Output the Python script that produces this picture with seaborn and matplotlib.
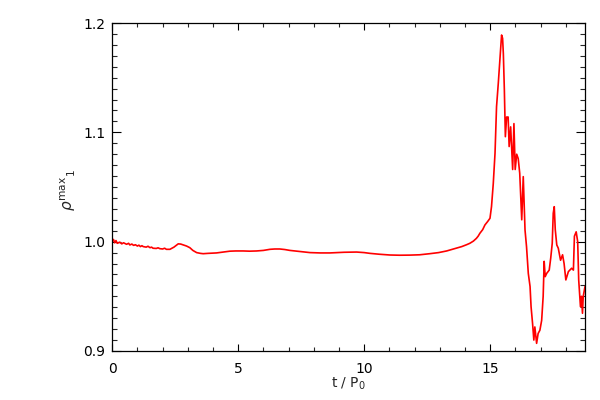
import matplotlib
matplotlib.use("Agg")
import matplotlib.pyplot as plt
import seaborn as sns
import pandas as pd
from matplotlib.ticker import MultipleLocator

# time in units of P_0
t = [0.00, 0.05, 0.10, 0.15, 0.20, 0.30, 0.38, 0.45, 0.57, 0.65, 0.70, 0.78, 0.85, 0.92, 1.00, 1.06, 1.12, 1.18,
     1.23, 1.35, 1.42, 1.50, 1.56, 1.62, 1.75, 1.82, 1.89, 2.00, 2.08, 2.15, 2.29,
     2.45, 2.62, 2.72, 2.82, 2.95, 3.08, 3.20, 3.35, 3.50, 3.61, 3.80, 4.00, 4.14, 4.40, 4.67, 4.90, 5.20, 5.45,
     5.73, 6.00, 6.26, 6.45, 6.65, 6.85, 7.05, 7.45, 7.85, 8.25, 8.64, 9.20, 9.70, 10.00, 10.23, 10.60, 11.02,
     11.40, 11.81, 12.20, 12.60, 12.95, 13.27, 13.47, 13.67, 13.87, 14.06, 14.19, 14.33, 14.45, 14.52, 14.59,
     14.70, 14.79, 14.90, 14.99, 15.05, 15.12, 15.19, 15.25, 15.32, 15.38, 15.45, 15.49, 15.52, 15.56, 15.60,
     15.65, 15.71, 15.75, 15.81, 15.89, 15.94, 15.99, 16.05, 16.11, 16.17, 16.25, 16.31, 16.38, 16.44, 16.51,
     16.58, 16.62, 16.68, 16.73, 16.77, 16.84, 16.90, 16.97, 17.04, 17.10, 17.14, 17.18, 17.24, 17.34, 17.40,
     17.46, 17.50, 17.54, 17.58, 17.64, 17.70, 17.79, 17.87, 17.93, 18.00, 18.10, 18.23, 18.30, 18.34, 18.41,
     18.47, 18.51, 18.58, 18.62, 18.66, 18.69, 18.76]

# rho^max_1
rho = [1.000, 1.002, 0.999, 1.001, 0.9985, 0.9995, 0.998, 0.9990, 0.9976, 0.9985, 0.997, 0.9978, 0.9966, 0.9972,
       0.996, 0.9968, 0.9955, 0.9963, 0.9955, 0.9950, 0.9958, 0.9945, 0.9950, 0.9940,
       0.9938, 0.9944, 0.9936, 0.9933, 0.9940, 0.9930, 0.9930, 0.9950, 0.9980, 0.9978, 0.9970, 0.9960, 0.9945,
       0.9920, 0.9900, 0.9893, 0.9890, 0.9893, 0.9895, 0.9897, 0.9905, 0.9913, 0.9915, 0.9915, 0.9913, 0.9915,
       0.9920, 0.9930, 0.9933, 0.9933, 0.9928, 0.9920, 0.9910, 0.9900, 0.9897, 0.9897, 0.9903, 0.9905, 0.9900,
       0.9893, 0.9885, 0.9878, 0.9876, 0.9877, 0.9880, 0.9890, 0.9900, 0.9915, 0.9928, 0.9942, 0.9955, 0.9972,
       0.9985, 1.0005, 1.0030, 1.0050, 1.0077, 1.0110, 1.0153, 1.0185, 1.0214, 1.0320, 1.0530, 1.0810, 1.1235,
       1.1450, 1.1660, 1.1890, 1.1860, 1.1720, 1.1390, 1.0960, 1.1140, 1.1140, 1.0870, 1.1050, 1.0660, 1.1080,
       1.0660, 1.0800, 1.0760, 1.0626, 1.0200, 1.0595, 1.0107, 0.9954, 0.9710, 0.9590, 0.9405, 0.9250, 0.9100,
       0.9220, 0.9070, 0.9160, 0.9190, 0.9280, 0.9500, 0.9820, 0.9680, 0.9710, 0.9740, 0.9850, 0.9985, 1.0260,
       1.0320, 1.0110, 0.9970, 0.9940, 0.9830, 0.9880, 0.9800, 0.9650, 0.9726, 0.9757, 0.9740, 1.0050, 1.0090,
       1.0000, 0.9650, 0.9405, 0.9500, 0.9345, 0.9500, 0.9590]

x_ticks = [0, 5, 10, 15]
x_tick_labels = ["0", "5", "10", "15"]
y_ticks = [0.9, 1.0, 1.1, 1.2]
y_tick_labels = ["0.9", "1.0", "1.1", "1.2"]

df = pd.DataFrame({"t": t, "rho": rho})

sns.set_style("ticks")
plt.rcParams["font.family"] = ["DejaVu Sans"]

fig = plt.figure(figsize=(6, 4), dpi=100)
ax = fig.add_axes([0.187, 0.1225, 0.788, 0.82])

sns.lineplot(data=df, x="t", y="rho", ax=ax, color="#ff0000", linewidth=1.2, sort=False)

ax.set_xlim(0, 18.76)
ax.set_ylim(0.9, 1.2)
ax.set_xticks(x_ticks)
ax.set_xticklabels(x_tick_labels)
ax.set_yticks(y_ticks)
ax.set_yticklabels(y_tick_labels)
ax.xaxis.set_minor_locator(MultipleLocator(1))
ax.yaxis.set_minor_locator(MultipleLocator(0.01))

ax.tick_params(axis="x", which="major", direction="in", length=5, width=0.8, top=True, bottom=True,
               labelsize=10, pad=8, colors="black")
ax.tick_params(axis="x", which="minor", direction="in", length=2.7, width=0.8, top=True, bottom=True)
ax.tick_params(axis="y", which="major", direction="in", length=6.5, width=0.8, left=True, right=True,
               labelsize=10, pad=5, colors="black")
ax.tick_params(axis="y", which="minor", direction="in", length=3.6, width=0.8, left=True, right=True)

for s in ax.spines.values():
    s.set_visible(True)
    s.set_color("black")
    s.set_linewidth(0.9)

ax.set_xlabel(r"t / P$_0$", fontsize=10)
ax.set_ylabel(r"$\rho^{\mathrm{max}}{}_{1}$", fontsize=11)
ax.xaxis.set_label_coords(0.5, -0.075)
ax.yaxis.set_label_coords(-0.072, 0.49)

fig.savefig("out.png", dpi=100, facecolor="white")
